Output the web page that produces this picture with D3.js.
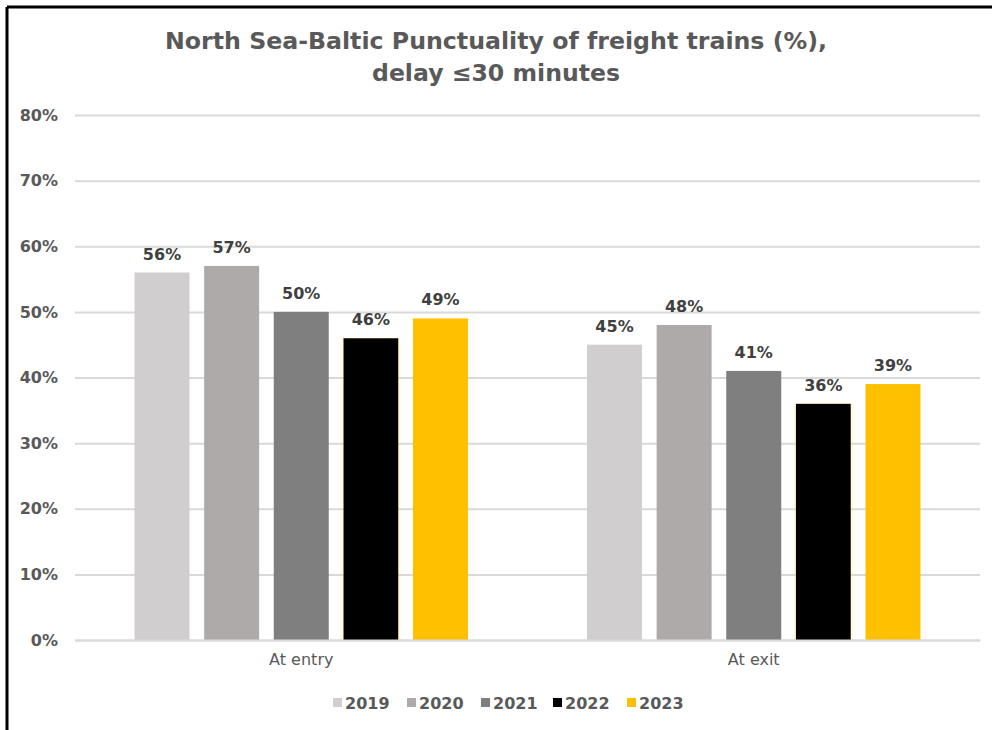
<!DOCTYPE html>
<html>
<head>
<meta charset="utf-8">
<script src="https://cdn.jsdelivr.net/npm/d3@7/dist/d3.min.js"></script>
<style>
  html, body { margin: 0; padding: 0; background: #fff; }
  svg { display: block; font-family: "DejaVu Sans", Verdana, sans-serif; }
</style>
</head>
<body>
<svg id="chart" width="992" height="730"></svg>
<script>
// Punctuality of freight trains on the North Sea-Baltic corridor
const categories = ["At entry", "At exit"];
const years = ["2019", "2020", "2021", "2022", "2023"];
const values2019 = [56, 45];
const values2020 = [57, 48];
const values2021 = [50, 41];
const values2022 = [46, 36];
const values2023 = [49, 39];
const yTicks = [0, 10, 20, 30, 40, 50, 60, 70, 80];
const titleLines = ["North Sea-Baltic Punctuality of freight trains (%),", "delay \u226430 minutes"];

const seriesValues = [values2019, values2020, values2021, values2022, values2023];
const colors = ["#d0cecf", "#aeaaaa", "#7f7f7f", "#000000", "#ffc000"];
const FONT = "DejaVu Sans, Verdana, sans-serif";

const svg = d3.select("#chart");
const W = 992, H = 730;
const plot = { left: 75, right: 980, top: 115, bottom: 640 };

// frame: top and left rules
svg.append("line").attr("x1", 7).attr("x2", W).attr("y1", 7).attr("y2", 7)
  .attr("stroke", "#000").attr("stroke-width", 3);
svg.append("line").attr("x1", 7).attr("x2", 7).attr("y1", 7).attr("y2", H)
  .attr("stroke", "#000").attr("stroke-width", 3);

// soft yellow halo along the sides of the black bars
const defs = svg.append("defs");
const glow = defs.append("filter").attr("id", "halo")
  .attr("x", "-20%").attr("y", "0%").attr("width", "140%").attr("height", "100%");
glow.append("feDropShadow").attr("dx", 0).attr("dy", 0).attr("stdDeviation", 2)
  .attr("flood-color", "#ffd966").attr("flood-opacity", 0.55);

// title
const titleWidths = [662, 248];
svg.append("g").selectAll("text").data(titleLines).join("text")
  .attr("x", 496).attr("y", (d, i) => 49 + i * 32)
  .attr("text-anchor", "middle")
  .attr("font-family", FONT)
  .attr("font-size", 23).attr("font-weight", "bold").attr("fill", "#595959")
  .attr("textLength", (d, i) => titleWidths[i]).attr("lengthAdjust", "spacingAndGlyphs")
  .text(d => d);

const y = d3.scaleLinear().domain([0, 80]).range([plot.bottom, plot.top]);
const x0 = d3.scaleBand().domain(categories).range([plot.left, plot.right]);
const x1 = d3.scaleBand().domain(years).range([0, x0.bandwidth()])
  .paddingInner(0.21).paddingOuter(0.855);

// gridlines + y labels
const yAxis = d3.axisLeft(y).tickValues(yTicks).tickFormat(d => d + "%")
  .tickSize(-(plot.right - plot.left)).tickPadding(17);
const gy = svg.append("g").attr("transform", `translate(${plot.left},0)`).call(yAxis);
gy.select(".domain").remove();
gy.selectAll(".tick line").attr("stroke", "#d9d9d9").attr("stroke-width", 2);
gy.selectAll(".tick text").attr("font-size", 16).attr("font-weight", "bold")
  .attr("fill", "#595959").attr("font-family", FONT);

// bars
const groups = svg.append("g").selectAll("g").data(categories).join("g")
  .attr("transform", c => `translate(${x0(c)},0)`);

groups.each(function (c, ci) {
  const g = d3.select(this);
  const rows = years.map((yr, si) => ({ yr, si, v: seriesValues[si][ci] }));
  g.selectAll("rect").data(rows).join("rect")
    .attr("x", d => x1(d.yr))
    .attr("width", x1.bandwidth())
    .attr("y", d => y(d.v))
    .attr("height", d => y(0) - y(d.v))
    .attr("fill", d => colors[d.si])
    .attr("filter", d => d.si === 3 ? "url(#halo)" : null);
  g.selectAll("text.val").data(rows).join("text").attr("class", "val")
    .attr("x", d => x1(d.yr) + x1.bandwidth() / 2)
    .attr("y", d => y(d.v) - 13)
    .attr("text-anchor", "middle")
    .attr("font-family", FONT)
    .attr("font-size", 16).attr("font-weight", "bold").attr("fill", "#404040")
    .text(d => d.v + "%");
});

// category axis
const xAxis = d3.axisBottom(x0).tickSize(0).tickPadding(14);
const gx = svg.append("g").attr("transform", `translate(0,${plot.bottom})`).call(xAxis);
gx.select(".domain").attr("stroke", "#d9d9d9").attr("stroke-width", 2);
gx.selectAll(".tick text").attr("font-size", 16).attr("fill", "#595959")
  .attr("font-family", FONT);

// legend
const legendX = [333, 407, 481, 553, 627];
const legend = svg.append("g").selectAll("g").data(years).join("g")
  .attr("transform", (d, i) => `translate(${legendX[i]},703)`);
legend.append("rect").attr("x", 0).attr("y", -5).attr("width", 9).attr("height", 9)
  .attr("fill", (d, i) => colors[i]);
legend.append("text").attr("x", 12).attr("y", 6)
  .attr("font-family", FONT)
  .attr("font-size", 16).attr("font-weight", "bold").attr("fill", "#595959")
  .text(d => d);
</script>
</body>
</html>
